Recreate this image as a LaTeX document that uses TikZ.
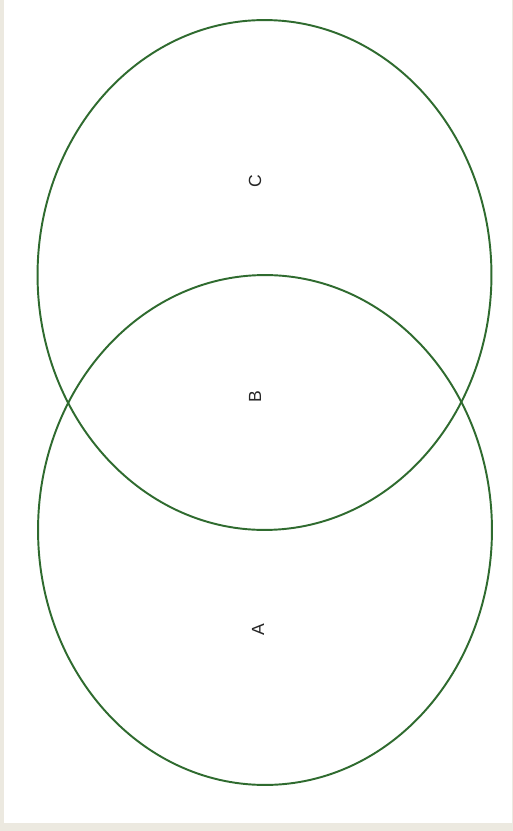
\documentclass[tikz,border=0pt]{standalone}
\usepackage{fontspec}
\setmainfont{Liberation Sans}
\usepackage{tikz}
\usetikzlibrary{shapes.geometric, positioning}
\definecolor{setgreen}{HTML}{2F6B2F}
\definecolor{paper}{HTML}{ECE9E0}
\tikzstyle{setring} = [ellipse, draw=setgreen, line width=1.1pt, minimum width=9.08cm, minimum height=10.2cm, inner sep=0pt]
\tikzstyle{setlabel} = [rotate=90, font=\fontsize{10}{12}\selectfont, text=black!85, inner sep=1pt]

\begin{document}
\begin{tikzpicture}[x=0.02cm, y=-0.02cm]

% Frame
\fill[paper] (0,0) rectangle (513,831);
\fill[white] (4,0) rectangle (512,823);
\useasboundingbox (0,0) rectangle (513,831);

% Sets
\node (upper) [setring] at (264.5,275) {};
\node (lower) [setring] at (265,530) {};

% Labels
\node (c) [setlabel] at (255,181) {C};
\node (b) [setlabel] at (255,397) {B};
\node (a) [setlabel] at (258,630) {A};

\end{tikzpicture}
\end{document}
